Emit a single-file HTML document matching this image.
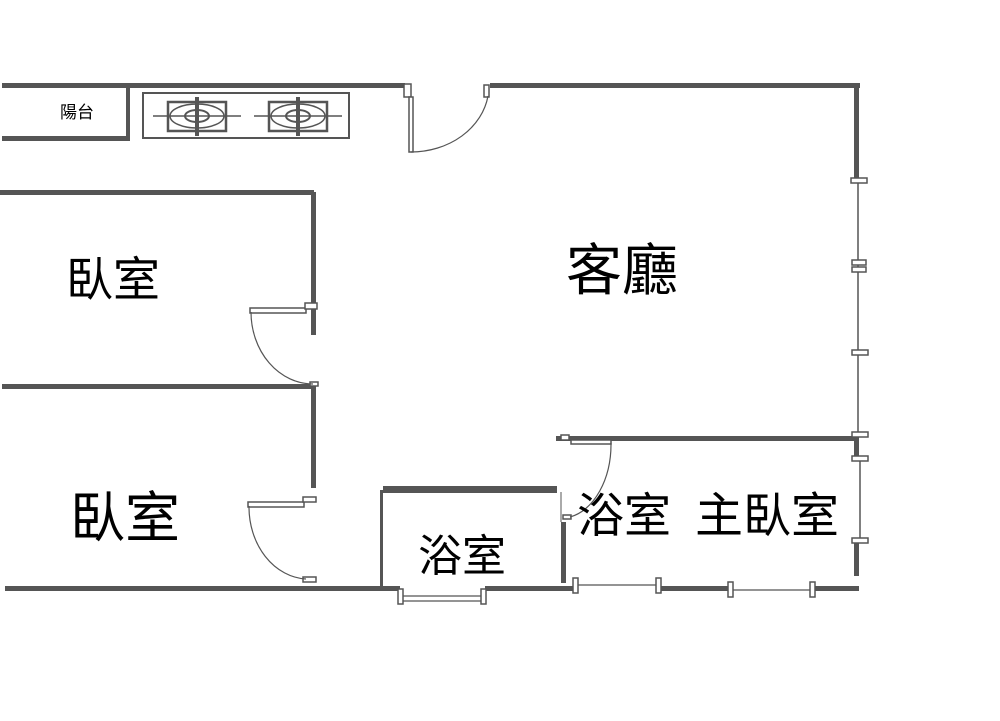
<!DOCTYPE html>
<html><head><meta charset="utf-8"><style>
html,body{margin:0;padding:0;background:#fff}
svg{display:block}
text{font-family:"Liberation Sans","Noto Sans CJK TC",sans-serif;fill:#000}
</style></head><body>
<svg width="1000" height="721" viewBox="0 0 1000 721" xmlns="http://www.w3.org/2000/svg">
<rect width="1000" height="721" fill="#fff"/>
<g fill="#555">
<rect x="2" y="83" width="403" height="5"/>
<rect x="490" y="83" width="370" height="5"/>
<rect x="2" y="136" width="126" height="5"/>
<rect x="126" y="83" width="4" height="58"/>
<rect x="854" y="83" width="5" height="98"/>
<rect x="854" y="436" width="5" height="24"/>
<rect x="854" y="540" width="5" height="36"/>
<rect x="0" y="190" width="314" height="5"/>
<rect x="311" y="192" width="5" height="143"/>
<rect x="2" y="384" width="314" height="5"/>
<rect x="311" y="386" width="5" height="102"/>
<rect x="5" y="586" width="395" height="5"/>
<rect x="485" y="586" width="91" height="5"/>
<rect x="660" y="586" width="70" height="5"/>
<rect x="812" y="586" width="47" height="5"/>
<rect x="383" y="486" width="174" height="7"/>
<rect x="380" y="490" width="3" height="98"/>
<rect x="561" y="522" width="5" height="61"/>
<rect x="556" y="436" width="302" height="5"/>
</g>
<g fill="none" stroke="#555">
<line x1="858" y1="181" x2="858" y2="436" stroke-width="1.5"/>
<line x1="860" y1="460" x2="860" y2="540" stroke-width="1.5"/>
<line x1="400" y1="596" x2="485" y2="596" stroke-width="1.2"/>
<line x1="400" y1="601" x2="485" y2="601" stroke-width="1.2"/>
<line x1="576" y1="585" x2="660" y2="585" stroke-width="1.2"/>
<line x1="730" y1="590" x2="812" y2="590" stroke-width="1.2"/>
<line x1="561" y1="492" x2="561" y2="522" stroke-width="1"/>
</g>
<g fill="#fff" stroke="#555" stroke-width="1.5">
<rect x="851" y="178" width="16" height="5"/>
<rect x="852" y="260" width="14" height="5"/>
<rect x="852" y="267" width="14" height="5"/>
<rect x="852" y="350" width="16" height="5"/>
<rect x="852" y="432" width="16" height="5"/>
<rect x="852" y="456" width="16" height="5"/>
<rect x="852" y="538" width="16" height="5"/>
<rect x="398" y="589" width="5" height="15"/>
<rect x="481" y="589" width="5" height="15"/>
<rect x="573" y="578" width="5" height="15"/>
<rect x="656" y="578" width="5" height="15"/>
<rect x="728" y="582" width="5" height="15"/>
<rect x="810" y="582" width="5" height="15"/>
<rect x="404" y="84" width="7" height="13"/>
<rect x="409" y="97" width="4" height="55"/>
<rect x="484" y="85" width="5" height="12"/>
<rect x="250" y="308" width="56" height="5"/>
<rect x="305" y="303" width="12" height="6"/>
<rect x="310" y="382" width="8" height="4"/>
<rect x="248" y="502" width="56" height="5"/>
<rect x="303" y="497" width="13" height="5"/>
<rect x="303" y="577" width="13" height="5"/>
<rect x="561" y="435" width="8" height="5"/>
<rect x="571" y="440" width="40" height="4"/>
<rect x="563" y="515" width="8" height="4"/>
<rect x="143" y="93" width="206" height="45" stroke-width="2"/>
</g>
<g fill="none" stroke="#555" stroke-width="1.2">
<path d="M411 152 A78 66 0 0 0 488 96"/>
<path d="M251 312 A62 72 0 0 0 313 384"/>
<path d="M249 506 A60 72 0 0 0 306 579"/>
<path d="M611 443 A50 74 0 0 1 570 517"/>
</g>
<g stroke="#555" fill="none">
<g id="b1">
<rect x="168" y="102" width="58" height="29" stroke-width="2.5"/>
<ellipse cx="197" cy="116" rx="27" ry="12" stroke-width="1.5"/>
<ellipse cx="197" cy="116" rx="12" ry="6" stroke-width="2"/>
<line x1="153" y1="116" x2="241" y2="116" stroke-width="1.5"/>
<line x1="197" y1="97" x2="197" y2="136" stroke-width="4"/>
</g>
<use href="#b1" x="101"/>
</g>
<text x="60" y="118" font-size="17">陽台</text>
<text x="66" y="296" font-size="47">臥室</text>
<text x="70" y="537" font-size="55">臥室</text>
<text x="566" y="290" font-size="56">客廳</text>
<text x="418" y="571" font-size="44">浴室</text>
<text x="577" y="532" font-size="47">浴室</text>
<text x="695" y="532" font-size="48">主臥室</text>
</svg>
</body></html>
